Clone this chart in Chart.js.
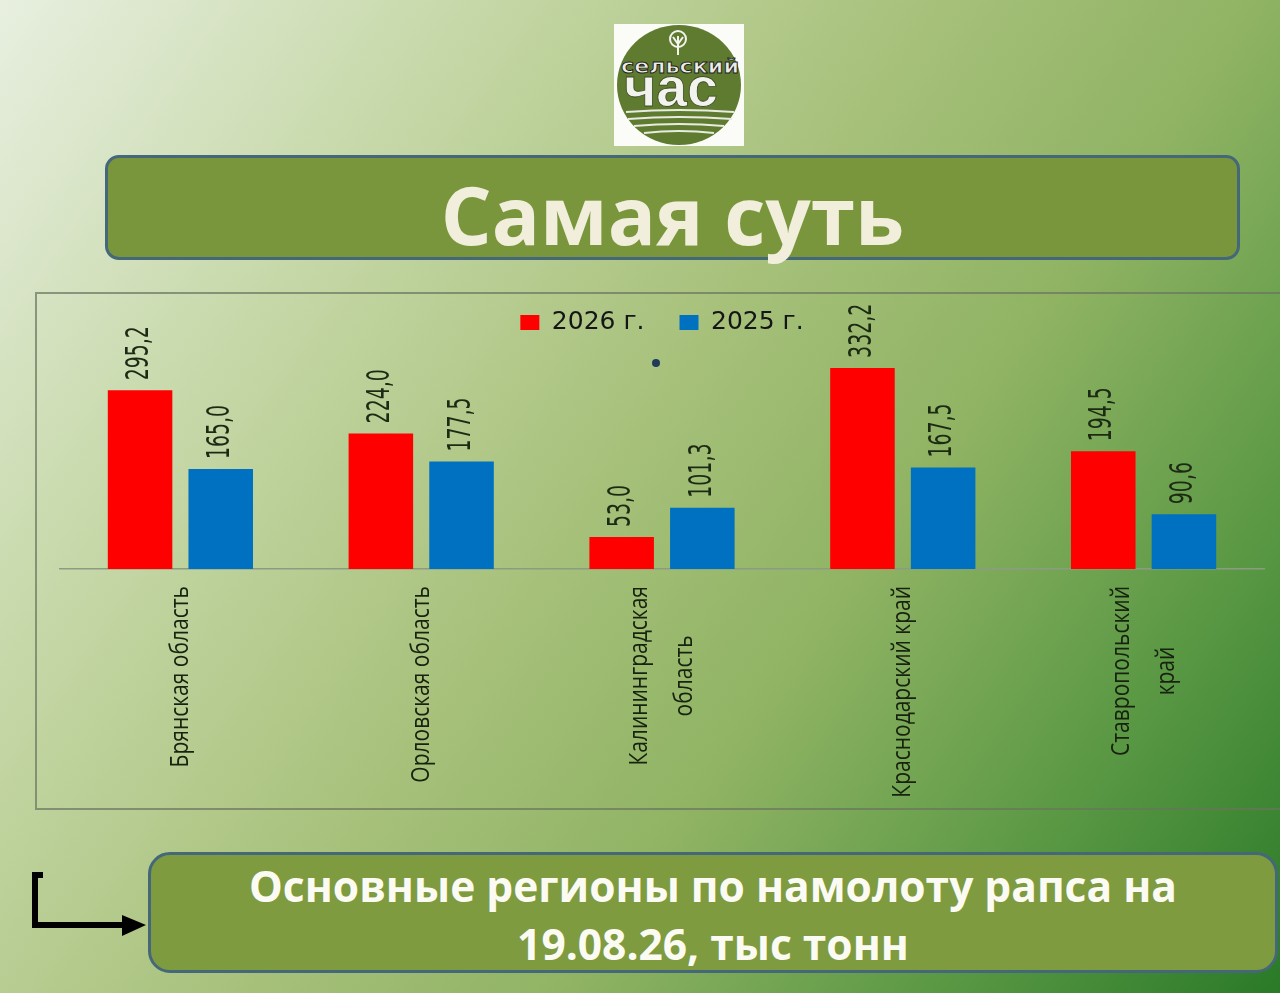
<!DOCTYPE html>
<html lang="ru">
<head>
<meta charset="utf-8">
<title>Самая суть</title>
<script src="https://cdn.jsdelivr.net/npm/chart.js@4.4.1/dist/chart.umd.min.js"></script>
<style>
  html, body { margin: 0; padding: 0; }
  body {
    width: 1280px; height: 993px; overflow: hidden; position: relative;
    background: linear-gradient(125deg, #e8efe0 0%, #c6d8a8 24%, #a9c27d 46%, #8fb363 64%, #5c9945 82%, #2a7a28 100%);
    font-family: "Open Sans", "Noto Sans", sans-serif;
  }
  .logo { position: absolute; left: 614px; top: 24px; }
  .titleBox {
    position: absolute; left: 105px; top: 155px; width: 1129px; height: 99px;
    background: #7a963c; border: 3px solid #44687a; border-radius: 14px;
  }
  .titleText {
    position: absolute; left: 105px; top: 174px; width: 1135px; height: 80px;
    line-height: 80px; text-align: center; font-size: 80px; font-weight: 700; color: #f1eedc;
  }
  .frame {
    position: absolute; left: 35px; top: 292px; width: 1260px; height: 514px;
    border-top: 2px solid rgba(105, 115, 95, 0.7);
    border-left: 2px solid rgba(105, 115, 95, 0.7);
    border-bottom: 2px solid rgba(105, 115, 95, 0.7);
  }
  .chartWrap { position: absolute; left: 36px; top: 294px; width: 1244px; height: 513px; }
  .dot { position: absolute; left: 652px; top: 359px; width: 8px; height: 8px; border-radius: 50%; background: #1f3a5a; }
  .noteBox {
    position: absolute; left: 148px; top: 852px; width: 1124px; height: 115px;
    background: #7f9b3f; border: 3px solid #44687a; border-radius: 22px;
  }
  .noteText {
    position: absolute; left: 148px; top: 857px; width: 1130px;
    line-height: 58px; text-align: center; font-size: 42.5px; font-weight: 700; color: #fbfbf3;
  }
  .arrow { position: absolute; left: 0; top: 840px; }
</style>
</head>
<body>

<svg class="logo" width="130" height="122" viewBox="0 0 130 122">
  <rect width="130" height="122" fill="#fbfcf8"/>
  <ellipse cx="65" cy="61" rx="62" ry="60" fill="#5f7b30"/>
  <circle cx="64" cy="15" r="8" fill="none" stroke="#f4f4ee" stroke-width="2"/>
  <path d="M64 12 V31 M59 13 L64 20 L69 13" stroke="#f4f4ee" stroke-width="2" fill="none"/>
  <text x="66" y="49" text-anchor="middle" font-family="DejaVu Sans" font-weight="bold" font-size="20" textLength="118" lengthAdjust="spacingAndGlyphs" fill="#ececE6" stroke="#1e1e1e" stroke-width="0.9">сельский</text>
  <text x="57" y="82" text-anchor="middle" font-family="Liberation Sans" font-weight="bold" font-size="56" textLength="94" lengthAdjust="spacingAndGlyphs" fill="#f2f2ee" stroke="#3a4a20" stroke-width="0.8">час</text>
  <path d="M12 88 Q65 84 120 88 M14 95 Q65 91 118 95 M20 102 Q65 98 110 102 M30 109 Q65 105 100 109" stroke="#e8ebe0" stroke-width="2" fill="none"/>
</svg>

<div class="titleBox"></div>
<div class="titleText">Самая суть</div>

<div class="frame"></div>
<div class="chartWrap"><canvas id="harvestChart"></canvas></div>
<div class="dot"></div>

<svg class="arrow" width="160" height="100" viewBox="0 0 160 100">
  <path d="M43 35 H35 V85 H126" stroke="#000" stroke-width="6" fill="none" stroke-linejoin="miter"/>
  <path d="M122 75 L146 85 L122 96 Z" fill="#000"/>
</svg>

<div class="noteBox"></div>
<div class="noteText">Основные регионы по намолоту рапса на<br>19.08.26, тыс тонн</div>

<script>
  const regions = ['Брянская область', 'Орловская область', ['Калининградская', 'область'], 'Краснодарский край', ['Ставропольский', 'край']];
  const harvest2026 = [295.2, 224.0, 53.0, 332.2, 194.5];
  const harvest2025 = [165.0, 177.5, 101.3, 167.5, 90.6];
  const seriesNames = ['2026 г.', '2025 г.'];

  const fmt = v => v.toFixed(1).replace('.', ',');

  // value labels, rotated and a bit stretched like the slide
  const barLabels = {
    id: 'barLabels',
    afterDatasetsDraw(chart) {
      const ctx = chart.ctx;
      ctx.save();
      ctx.font = '21px "Liberation Sans Narrow", "DejaVu Sans Condensed", sans-serif';
      ctx.fillStyle = '#1c2a14';
      ctx.textAlign = 'left';
      ctx.textBaseline = 'middle';
      chart.data.datasets.forEach((ds, i) => {
        chart.getDatasetMeta(i).data.forEach((bar, j) => {
          ctx.save();
          ctx.translate(bar.x, bar.y - 10);
          ctx.rotate(-Math.PI / 2);
          ctx.scale(1, 1.5);
          ctx.fillText(fmt(ds.data[j]), 0, 0);
          ctx.restore();
        });
      });
      ctx.restore();
    }
  };

  // category names under the axis
  const catLabels = {
    id: 'catLabels',
    afterDraw(chart) {
      const ctx = chart.ctx;
      const xs = chart.scales.x;
      const top = chart.chartArea.bottom + 17;
      ctx.save();
      ctx.font = '21px "Open Sans", sans-serif';
      ctx.fillStyle = '#17220f';
      ctx.textAlign = 'center';
      ctx.textBaseline = 'middle';
      chart.data.labels.forEach((lbl, i) => {
        const lines = Array.isArray(lbl) ? lbl : [lbl];
        const w = Math.max(...lines.map(l => ctx.measureText(l).width));
        ctx.save();
        ctx.translate(xs.getPixelForValue(i), top);
        ctx.rotate(-Math.PI / 2);
        ctx.scale(1, 1.25);
        lines.forEach((l, k) => ctx.fillText(l, -w / 2, (k - (lines.length - 1) / 2) * 36));
        ctx.restore();
      });
      ctx.restore();
    }
  };

  const harvestChart = new Chart(document.getElementById('harvestChart'), {
    type: 'bar',
    data: {
      labels: regions,
      datasets: [
        { label: seriesNames[0], data: harvest2026, backgroundColor: '#ff0000', barPercentage: 0.8, categoryPercentage: 0.67 },
        { label: seriesNames[1], data: harvest2025, backgroundColor: '#0070c0', barPercentage: 0.8, categoryPercentage: 0.67 }
      ]
    },
    options: {
      responsive: true,
      maintainAspectRatio: false,
      animation: false,
      layout: { padding: { left: 24, right: 16, top: -19, bottom: 230 } },
      plugins: {
        legend: {
          position: 'top',
          labels: { boxWidth: 19, boxHeight: 15, padding: 35, color: '#151515', font: { family: 'DejaVu Sans', size: 25 } }
        },
        tooltip: { enabled: false }
      },
      scales: {
        x: {
          grid: { display: false },
          border: { color: '#8c9c84', width: 1.5 },
          ticks: { display: false }
        },
        y: {
          display: false,
          min: 0,
          max: 370
        }
      }
    },
    plugins: [barLabels, catLabels]
  });
</script>
</body>
</html>
